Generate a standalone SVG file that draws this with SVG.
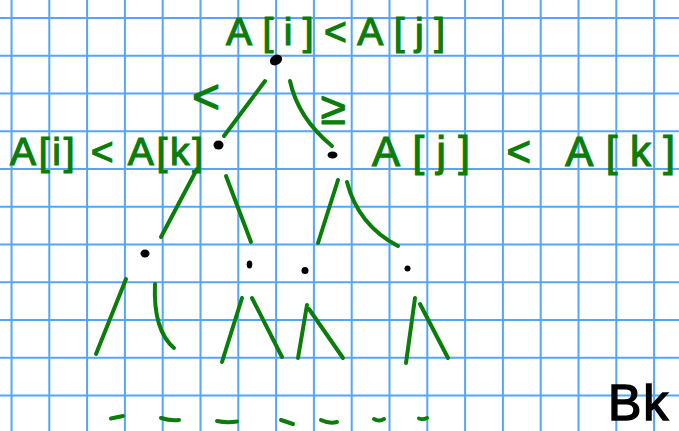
<svg xmlns="http://www.w3.org/2000/svg" width="679" height="431" viewBox="0 0 679 431">
<defs>
<style>
.g{stroke:#55a6f7;stroke-width:2;fill:none}
.e{stroke:#0a7d0a;stroke-width:4;fill:none;stroke-linecap:round;stroke-linejoin:round}
.lbl{font-family:"Liberation Sans",Arial,sans-serif;fill:#0a7d0a;stroke:#0a7d0a;stroke-width:1.2}
.dot{fill:#000}
.blk{font-family:"Liberation Sans",Arial,sans-serif;fill:#000;stroke:#000;stroke-width:1.5}
</style>
</defs>
<rect width="679" height="431" fill="#fff"/>
<g id="grid-lines" class="g">
<path d="M11.5 0V431M49.3 0V431M87.1 0V431M124.9 0V431M162.7 0V431M200.5 0V431M238.3 0V431M276.1 0V431M313.9 0V431M351.7 0V431M389.5 0V431M427.3 0V431M465.1 0V431M502.9 0V431M540.7 0V431M578.5 0V431M616.3 0V431M654.1 0V431"/>
<path d="M0 18H679M0 55.75H679M0 93.5H679M0 131.25H679M0 169H679M0 206.75H679M0 244.5H679M0 282.25H679M0 320H679M0 357.75H679M0 395.5H679"/>
</g>
<g id="connectors" class="e">
<path d="M265 81L224 136"/>
<path d="M290 81Q298 118 332 146"/>
<path d="M197 169L161 237"/>
<path d="M226 176L251 242"/>
<path d="M338 180L318 243"/>
<path d="M347 182Q358 225 398 246"/>
<path d="M126 279L96 354"/>
<path d="M155 284Q153 330 174 348"/>
<path d="M242 298L222 362"/>
<path d="M252 298L282 357"/>
<path d="M307 305L298 358"/>
<path d="M309 309L343 358"/>
<path d="M415 298L406 363"/>
<path d="M420 304L448 358"/>
<text class="lbl" x="206" y="113" font-size="48" text-anchor="middle" stroke="none">&lt;</text>
<text class="lbl" x="333" y="124" font-size="46" text-anchor="middle" stroke="none">≥</text>
</g>
<g id="root">
<ellipse class="dot" cx="276" cy="60" rx="6.5" ry="5" transform="rotate(-30 276 60)"/>
<text class="lbl" x="226" y="45" font-size="39" textLength="219" lengthAdjust="spacing">A[i]&lt;A[j]</text>
</g>
<g id="node-left">
<ellipse class="dot" cx="218.5" cy="145" rx="5" ry="4.5"/>
<text class="lbl" x="10" y="165" font-size="39" textLength="193" lengthAdjust="spacing">A[i] &lt; A[k]</text>
</g>
<g id="node-right">
<ellipse class="dot" cx="332.5" cy="155" rx="5" ry="3.5"/>
<text class="lbl" x="372" y="166" font-size="42" textLength="303" lengthAdjust="spacing">A[j] &lt; A[k]</text>
</g>
<g id="node-ll"><ellipse class="dot" cx="145" cy="253.5" rx="4.5" ry="4"/></g>
<g id="node-lr"><ellipse class="dot" cx="249.5" cy="264.5" rx="2.8" ry="4"/></g>
<g id="node-rl"><circle class="dot" cx="305" cy="270.5" r="3.5"/></g>
<g id="node-rr"><circle class="dot" cx="407.5" cy="268.5" r="3"/></g>
<g id="leaves" class="e">
<path d="M111 418.5L123 416"/>
<path d="M161 418Q170 421 179 420"/>
<path d="M217 421Q227 423 237 421.5"/>
<path d="M281 420L293 424"/>
<path d="M321 420Q329 424 337 422"/>
<path d="M374 419Q379 422 384 419"/>
<path d="M419 418.5Q423 420 427 418"/>
</g>
<text class="blk" x="608" y="420" font-size="50" letter-spacing="2">Bk</text>
</svg>
